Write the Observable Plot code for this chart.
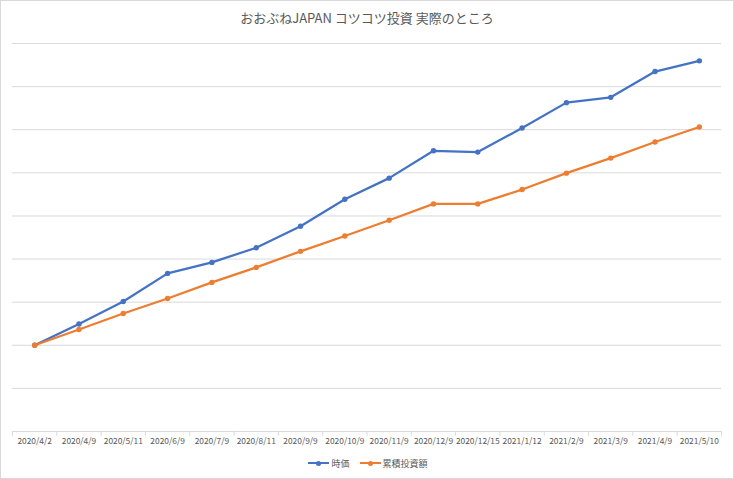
<!DOCTYPE html>
<html>
<head>
<meta charset="utf-8">
<script src="https://cdn.jsdelivr.net/npm/d3@7"></script>
<script src="https://cdn.jsdelivr.net/npm/@observablehq/plot@0.6"></script>
<style>
  html, body { margin: 0; padding: 0; background: #fff; }
  #wrap { position: relative; width: 734px; height: 479px; background: #fff;
    font-family: "Noto Sans CJK JP", "Noto Sans", sans-serif; color: #595959; overflow: hidden; }
  #border { position: absolute; left: 0; top: 0; width: 734px; height: 479px; box-sizing: border-box;
    border: 1px solid #d9d9d9; pointer-events: none; }
  #title { position: absolute; left: 0; width: 734px; top: 8px; text-align: center; font-size: 13px; line-height: 20px; }
  #chart { position: absolute; left: 0; top: 32px; }
  #legend { position: absolute; left: 0; width: 734px; top: 455px; height: 16px; display: flex; justify-content: center;
    align-items: center; font-size: 9px; gap: 10px; padding-left: 2px; box-sizing: border-box; }
  .item { display: flex; align-items: center; gap: 2px; }
  .sw { position: relative; width: 21px; height: 9px; }
  .sw .ln { position: absolute; left: 0; right: 0; top: 3.5px; height: 2px; }
  .sw .dt { position: absolute; left: 8px; top: 2px; width: 5px; height: 5px; border-radius: 50%; }
</style>
</head>
<body>
<div id="wrap">
  <div id="title">おおぶねJAPAN コツコツ投資 実際のところ</div>
  <div id="chart"></div>
  <div id="legend"></div>
  <div id="border"></div>
</div>
<script>
const dates = ["2020/4/2","2020/4/9","2020/5/11","2020/6/9","2020/7/9","2020/8/11","2020/9/9","2020/10/9","2020/11/9","2020/12/9","2020/12/15","2021/1/12","2021/2/9","2021/3/9","2021/4/9","2021/5/10"];
const marketValue = [20000,24950,30160,36670,39230,42630,47600,53880,58770,65120,64810,70400,76280,77510,83490,85980];
const invested = [20000,23650,27370,30860,34580,38070,41790,45350,49000,52790,52790,56120,59930,63420,67140,70630];
const seriesNames = ["時価", "累積投資額"];
const seriesColors = ["#4472C4", "#ED7D31"];
const gridValues = [10000,20000,30000,40000,50000,60000,70000,80000,90000];

const idx = dates.map((d, i) => i);
const rows = [];
idx.forEach(i => rows.push({i, v: marketValue[i], s: seriesNames[0]}));
idx.forEach(i => rows.push({i, v: invested[i], s: seriesNames[1]}));
const bounds = d3.range(dates.length + 1).map(k => k - 0.5);

const chart = Plot.plot({
  width: 734,
  height: 420,
  marginLeft: 12,
  marginRight: 13,
  marginTop: 11,
  marginBottom: 21,
  style: { fontFamily: '"Noto Sans CJK JP", "Noto Sans", sans-serif', color: "#595959", background: "transparent" },
  x: { type: "linear", domain: [-0.5, dates.length - 0.5], axis: null },
  y: { domain: [0, 90000], axis: null },
  color: { domain: seriesNames, range: seriesColors },
  marks: [
    Plot.ruleY(gridValues, { stroke: "#d9d9d9", strokeWidth: 1 }),
    Plot.ruleY([0], { stroke: "#d9d9d9", strokeWidth: 1 }),
    Plot.ruleX(bounds, { y1: 0, y2: -1100, stroke: "#d9d9d9", strokeWidth: 1 }),
    Plot.text(idx, { x: d => d, y: 0, dy: 10, text: d => dates[d], fontSize: 8.4, fill: "#595959" }),
    Plot.line(rows, { x: "i", y: "v", z: "s", stroke: "s", strokeWidth: 2.25, strokeLinejoin: "round", strokeLinecap: "round" }),
    Plot.dot(rows, { x: "i", y: "v", fill: "s", r: 2.7 })
  ]
});
document.getElementById("chart").appendChild(chart);

const legend = document.getElementById("legend");
seriesNames.forEach((name, k) => {
  const it = document.createElement("div");
  it.className = "item";
  it.innerHTML = `<span class="sw"><span class="ln" style="background:${seriesColors[k]}"></span><span class="dt" style="background:${seriesColors[k]}"></span></span><span>${name}</span>`;
  legend.appendChild(it);
});
</script>
</body>
</html>
